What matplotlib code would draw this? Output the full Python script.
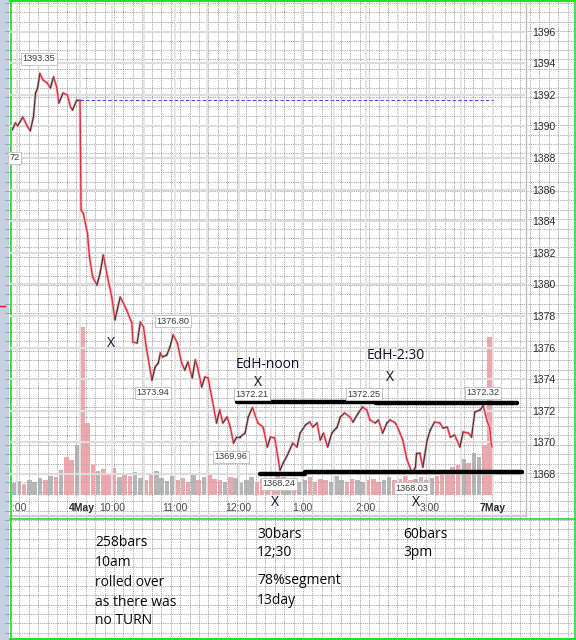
import numpy as np
import matplotlib
matplotlib.use('Agg')
import matplotlib.pyplot as plt
from matplotlib.collections import LineCollection

# ---------------- data ----------------
# minutes relative to 9:30 on 4 May (negative = previous session)
price_t = [-64, -61, -59, -54, -50, -47, -44, -42, -40, -38, -35, -31, -28, -25, -22, -20, -16, -12, -9, -7, -3, 0,
           1, 3, 7, 9, 12, 16, 19, 22, 26, 30, 33, 38, 41, 44, 49, 50, 54, 57, 60, 63,
           68, 71, 74, 76, 78, 82, 85, 88, 92, 96, 99, 102, 106, 109, 111, 115, 118, 121, 125, 129,
           132, 135, 139, 142, 145, 148, 151, 156, 159, 163, 168, 173, 177, 180, 184, 189, 192, 196, 201, 205,
           208, 213, 217, 220, 224, 227, 230, 234, 238, 243, 246, 250, 255, 258, 263, 267, 271, 274, 279, 282,
           286, 290, 293, 298, 300, 305, 309, 314, 317, 318, 321, 324, 328, 331, 335, 340, 343, 347, 350, 354,
           359, 362, 367, 370, 373, 378, 381, 385, 387, 389]
price_p = [1389.77, 1390.22, 1390.03, 1390.59, 1390.03, 1389.72, 1390.59, 1392.11, 1392.43, 1393.35, 1392.94,
           1392.75, 1392.43, 1393.13, 1392.49, 1391.48, 1392.11, 1391.99, 1391.23, 1391.04, 1391.67, 1391.67,
           1384.71, 1384.52, 1383.25, 1381.73, 1380.47, 1379.96, 1380.72, 1381.86, 1380.47, 1379.20,
           1377.75, 1379.20, 1378.82, 1378.38, 1377.56, 1376.35, 1376.29, 1377.62, 1377.30, 1375.85,
           1373.94, 1374.77, 1375.03, 1375.66, 1375.41, 1375.53, 1376.04, 1376.80, 1376.29, 1375.03,
           1374.58, 1375.09, 1374.08, 1375.22, 1374.77, 1373.51, 1374.14, 1374.08, 1372.68, 1371.23,
           1372.05, 1371.23, 1371.61, 1370.97, 1369.96, 1370.34, 1370.34, 1370.59, 1371.61, 1372.21,
           1371.23, 1370.97, 1369.71, 1370.34, 1370.28, 1368.24, 1368.70, 1369.20, 1369.96, 1369.71,
           1370.59, 1371.10, 1371.29, 1370.97, 1371.23, 1370.15, 1370.59, 1369.71, 1370.59, 1370.97,
           1371.61, 1371.86, 1371.61, 1371.29, 1371.86, 1372.25, 1372.05, 1371.42, 1371.23, 1371.42,
           1370.59, 1371.23, 1371.42, 1371.23, 1370.97, 1370.15, 1368.89, 1368.03, 1368.44, 1369.33,
           1369.33, 1368.44, 1370.15, 1370.78, 1371.29, 1371.23, 1370.91, 1370.97, 1370.34, 1370.47,
           1369.71, 1370.66, 1370.59, 1370.34, 1371.92, 1372.05, 1372.32, 1371.29, 1370.97, 1369.71]

# 5-minute volume buckets (arbitrary units)
vol_t = list(range(-65, 390, 5))
vol = [12, 14, 11, 15, 13, 17, 15, 19, 18, 25, 38, 35, 50,
       168, 72, 30, 24, 26, 20, 27, 18, 22, 19, 23, 17, 15, 20, 24, 17,
       14, 19, 15, 17, 13, 20, 15, 18, 22, 16, 15, 13, 18, 17, 12,
       15, 18, 13, 16, 15, 13, 22, 18, 15, 16, 13, 15, 18, 13,
       16, 15, 13, 19, 15, 13, 16, 15, 13, 15, 16, 13, 15, 18,
       15, 16, 19, 15, 16, 18, 15, 17, 19, 21, 24, 28, 30, 36,
       32, 42, 38, 50, 158]

prev_close = 1391.67
y_ticks = [1368, 1370, 1372, 1374, 1376, 1378, 1380, 1382, 1384, 1386, 1388, 1390, 1392, 1394, 1396]
x_tick_t = [-57, 2, 30, 90, 150, 210, 270, 330, 390]
x_tick_lab = [':00', '4May', '10:00', '11:00', '12:00', '1:00', '2:00', '3:00', '7May']

# labelled highs / lows: (text, t, price of box)
price_labels = [('1393.35', -38.7, 1394.27), ('72', -62.0, 1388.0), ('1376.80', 87.9, 1377.68),
                ('1373.94', 69.0, 1373.13), ('1369.96', 142.7, 1369.08), ('1372.21', 162.5, 1373.06),
                ('1368.24', 188.0, 1367.37), ('1372.25', 268.4, 1373.06), ('1368.03', 313.7, 1367.11),
                ('1372.32', 380.8, 1373.13)]
resist_segs = [(148, 280, 1372.58), (280, 413, 1372.52)]
support_segs = [(170, 213, 1367.98), (213, 418, 1368.15)]

notes_left = ['258bars', '10am', 'rolled over', 'as there was', 'no TURN']
notes_mid = ['30bars', '12;30', '', '78%segment', '13day']
notes_right = ['60bars', '3pm']

# ---------------- figure ----------------
W, H = 576, 640
fig = plt.figure(figsize=(W / 100, H / 100), dpi=100)
fig.patch.set_facecolor('white')

bg = fig.add_axes([0, 0, 1, 1])
bg.set_xlim(0, W)
bg.set_ylim(H, 0)
bg.axis('off')
bg.set_zorder(0)

# spreadsheet cell grid
for xg in np.arange(10, W, 9.45):
    bg.axvline(xg, color='#5a5a5a', lw=0.5, ls=(0, (1, 1.6)), zorder=1)
for yg in np.arange(3, H, 9.4):
    bg.axhline(yg, color='#5a5a5a', lw=0.5, ls=(0, (1, 1.6)), zorder=1)

# left row header strip
bg.add_patch(plt.Rectangle((0, 0), 9, H, facecolor='#c6cee2', edgecolor='none', zorder=2))
for yg in np.arange(3, H, 9.4):
    bg.plot([5, 9], [yg, yg], color='#8890a8', lw=0.5, zorder=3)
bg.plot([0, 5], [306, 306], color='#e02020', lw=1.0, zorder=3)

# green chart borders
gcol = '#22e022'
bg.plot([10.5, 10.5], [0, H], color=gcol, lw=1.2, zorder=5)
bg.plot([10, W], [1, 1], color=gcol, lw=1.5, zorder=5)
bg.plot([574.5, 574.5], [0, H], color=gcol, lw=1.2, zorder=5)
bg.plot([10, W], [638.8, 638.8], color=gcol, lw=1.5, zorder=5)
bg.plot([10, W], [519, 519], color=gcol, lw=1.2, zorder=5)
bg.plot([10, 525], [516, 516], color='#cfcfcf', lw=1.5, zorder=4)
bg.plot([525.5, 525.5], [3, 516], color='#bdbdbd', lw=1.0, zorder=4)

# notes in the sheet
tfont = dict(family=['Open Sans', 'DejaVu Sans'], fontsize=10, color='#0a0a0a', va='center', ha='left')
for s, yy in zip(notes_left, [543, 562.5, 582, 602, 621]):
    bg.text(95, yy, s, **tfont, zorder=6)
for s, yy in zip(notes_mid, [534, 553, 567, 581, 600]):
    if s:
        bg.text(257, yy, s, **tfont, zorder=6)
for s, yy in zip(notes_right, [534, 553]):
    bg.text(403, yy, s, **tfont, zorder=6)
for xx in (275, 416):
    bg.text(xx, 503, 'X', family=['Open Sans', 'DejaVu Sans'], fontsize=10, color='#10102e',
            ha='center', va='center', zorder=6)

# ---------------- chart ----------------
x0, x1, y0, y1 = 10, 525, 3, 495
rect = [x0 / W, 1 - y1 / H, (x1 - x0) / W, (y1 - y0) / H]
ppx = 63.5 / 60.0
tmin = (x0 - 80) / ppx
tmax = (x1 - 80) / ppx
pm = 15.8
pmin = 1368 + (474 - y1) / pm
pmax = 1368 + (474 - y0) / pm

vax = fig.add_axes(rect)
vax.set_xlim(tmin, tmax)
vax.set_ylim(0, y1 - y0)
vax.axis('off')
vax.set_zorder(1)

ax = fig.add_axes(rect)
ax.set_zorder(2)
ax.patch.set_visible(False)
ax.set_xlim(tmin, tmax)
ax.set_ylim(pmin, pmax)
for sp in ax.spines.values():
    sp.set_visible(False)

# chart's own gridlines
for yv in y_ticks:
    ax.axhline(yv, color='#dcdcdc', lw=1.5, zorder=1)
for tv in [-60, 0, 30, 60, 90, 120, 150, 180, 210, 240, 270, 300, 330, 360, 390]:
    ax.axvline(tv, color='#e4e4e4', lw=1.3, zorder=1)

# volume bars coloured by price direction within each bucket
pt = np.array(price_t, float)
pp = np.array(price_p, float)
vt = np.array(vol_t, float)
p_start = np.interp(vt, pt, pp)
p_end = np.interp(vt + 5, pt, pp)
vcols = ['#e79aa0' if e < s else '#a9a9a9' for s, e in zip(p_start, p_end)]
vax.bar(vt, vol, width=4.3, align='edge', color=vcols, alpha=0.85, edgecolor='none')

# price line, red when falling, dark when rising
pts = np.column_stack([pt, pp])
segs = np.stack([pts[:-1], pts[1:]], axis=1)
dp = np.diff(pp)
lcols = ['#d8303f' if d < 0 else '#3c3c3c' for d in dp]
ax.add_collection(LineCollection(segs, colors='#f4bcc2', linewidths=2.0, zorder=3, capstyle='round'))
ax.add_collection(LineCollection(segs, colors=lcols, linewidths=0.95, zorder=4, capstyle='round'))

# previous close dashed line
ax.plot([0, 390], [prev_close, prev_close], color='#3a4ee8', lw=0.8, ls=(0, (3, 2)), zorder=3)

# support / resistance
for a, b, lv in resist_segs:
    ax.plot([a, b], [lv, lv], color='black', lw=3.2, solid_capstyle='round', zorder=5)
for a, b, lv in support_segs:
    ax.plot([a, b], [lv, lv], color='black', lw=3.2, solid_capstyle='round', zorder=5)

# price labels
for s, tv, pv in price_labels:
    ax.text(tv, pv, s, family=['Liberation Sans', 'DejaVu Sans'], fontsize=6.6, color='#3a3a3a',
            ha='center', va='center', zorder=6,
            bbox=dict(boxstyle='square,pad=0.18', facecolor='white', edgecolor='#c4c4c4', lw=0.7))

# annotations
afont = dict(family=['Open Sans', 'DejaVu Sans'], fontsize=10, color='#10102e', ha='center', va='center', zorder=7)
ax.text(177.6, 1374.9, 'EdH-noon', **afont)
ax.text(298.6, 1375.47, 'EdH-2:30', **afont)
for tv, pv in [(29.3, 1376.23), (168.2, 1373.76), (292.9, 1374.08)]:
    ax.text(tv, pv, 'X', **afont)

# axes ticks
ax.yaxis.tick_right()
ax.set_yticks(y_ticks)
ax.set_yticklabels([str(v) for v in y_ticks])
ax.tick_params(axis='y', length=0, pad=5, labelsize=7.5, labelcolor='#2a2a2a')
ax.set_xticks(x_tick_t)
ax.set_xticklabels(x_tick_lab)
ax.tick_params(axis='x', length=0, pad=6, labelsize=7.5, labelcolor='#4a4a4a')
for lab in ax.get_xticklabels() + ax.get_yticklabels():
    lab.set_family(['Liberation Sans', 'DejaVu Sans'])
for lab in ax.get_xticklabels():
    if 'May' in lab.get_text():
        lab.set_fontweight('bold')
        lab.set_color('#2a2a2a')
ax.grid(False)

fig.savefig('out.png', dpi=100, facecolor='white')
